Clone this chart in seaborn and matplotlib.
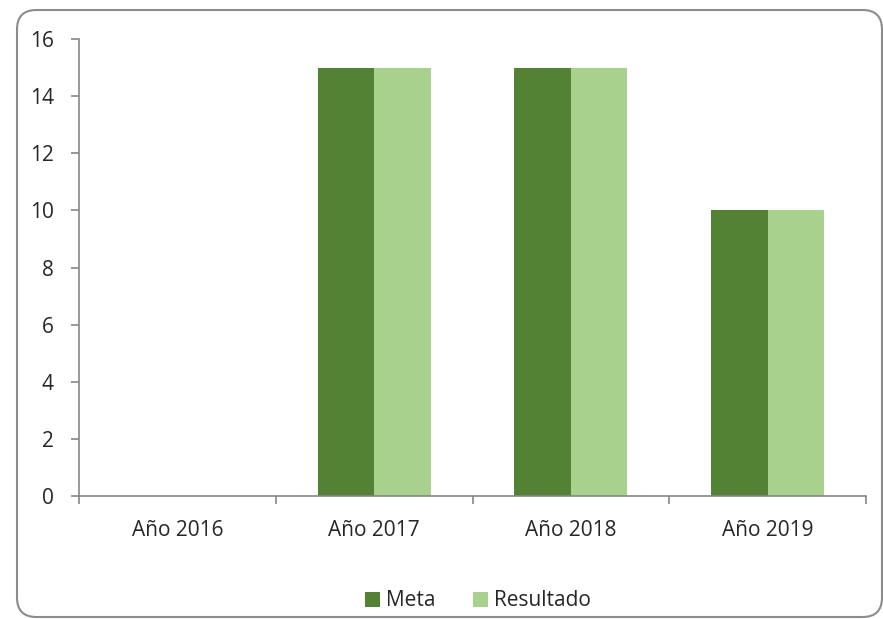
import matplotlib
matplotlib.use("Agg")
import matplotlib.pyplot as plt
import seaborn as sns
import pandas as pd
from matplotlib.patches import FancyBboxPatch

categories = ["Año 2016", "Año 2017", "Año 2018", "Año 2019"]
meta = [0, 15, 15, 10]
resultado = [0, 15, 15, 10]
series = ["Meta", "Resultado"]
colors = ["#548235", "#A9D18E"]

df = pd.DataFrame({
    "cat": categories * 2,
    "val": meta + resultado,
    "serie": [series[0]] * 4 + [series[1]] * 4,
})

sns.set_style("white")
plt.rcParams["font.family"] = ["Open Sans", "DejaVu Sans"]

W, H = 883, 619
fig = plt.figure(figsize=(W / 100, H / 100), dpi=100)
ax = fig.add_axes([79 / W, 1 - 496 / H, (866 - 79) / W, (496 - 39) / H])

sns.barplot(data=df, x="cat", y="val", hue="serie", palette=colors,
            width=0.575, ax=ax, saturation=1, legend=True, linewidth=0)

ax.set_ylim(0, 16)
ax.set_xlim(-0.5, 3.5)
ax.set_yticks(range(0, 17, 2))
ax.set_xlabel("")
ax.set_ylabel("")
for s in ["top", "right"]:
    ax.spines[s].set_visible(False)
for s in ["left", "bottom"]:
    ax.spines[s].set_color("#868686")
    ax.spines[s].set_linewidth(1.2)
ax.tick_params(axis="y", left=True, length=6, color="#868686", width=1.2,
               labelsize=15, pad=12)
ax.tick_params(axis="x", which="major", bottom=False, length=0, labelsize=15, pad=17)
ax.set_xticks([-0.5, 0.5, 1.5, 2.5, 3.5], minor=True)
ax.tick_params(axis="x", which="minor", bottom=True, length=6, color="#868686",
               width=1.2, direction="out")
for lbl in ax.get_xticklabels() + ax.get_yticklabels():
    lbl.set_color("#262626")
ax.grid(False)

leg = ax.legend(loc="center", bbox_to_anchor=(478 / W, 1 - 601 / H),
                bbox_transform=fig.transFigure, ncol=2, frameon=False, fontsize=15,
                handlelength=0.7, handleheight=0.7, handletextpad=0.3,
                columnspacing=1.8)
for t in leg.get_texts():
    t.set_color("#262626")

frame = FancyBboxPatch((17 / W, 2 / H), (882 - 17) / W, (H - 10 - 2) / H,
                       boxstyle="round,pad=0,rounding_size=0.022",
                       transform=fig.transFigure, facecolor="none",
                       edgecolor="#8c8c8c", linewidth=1.5, mutation_aspect=W / H)
fig.patches.append(frame)

fig.savefig("out.png", dpi=100)
